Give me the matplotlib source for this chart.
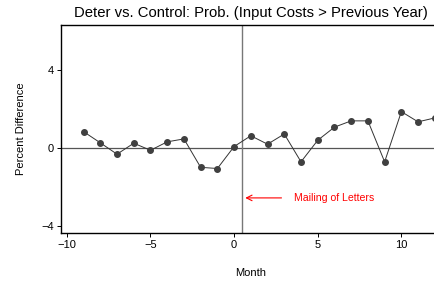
import numpy as np
import matplotlib.pyplot as plt

plt.rcParams['font.family'] = ['Liberation Sans', 'DejaVu Sans']

months = [-9, -8, -7, -6, -5, -4, -3, -2, -1, 0, 1, 2, 3, 4, 5, 6, 7, 8, 9, 10, 11, 12]
pct_diff = [0.83, 0.26, -0.32, 0.24, -0.12, 0.31, 0.46, -0.99, -1.05, 0.07, 0.62,
            0.19, 0.71, -0.71, 0.39, 1.06, 1.38, 1.38, -0.71, 1.85, 1.33, 1.53]

fig = plt.figure(figsize=(4.34, 2.84), dpi=100)
# axes run past the right edge of the figure, as in the original crop
ax = fig.add_axes([61 / 434, (284 - 233) / 284, 380 / 434, 208 / 284])

ax.axhline(0, color='#555555', lw=0.9, zorder=1)
ax.axvline(0.5, color='#777777', lw=1.0, zorder=1)
ax.plot(months, pct_diff, color='#333333', lw=0.7, marker='o', ms=4.0,
        markerfacecolor='#404040', markeredgecolor='#404040', zorder=3)

ax.annotate('', xy=(0.5, -2.55), xytext=(3.0, -2.55),
            arrowprops=dict(arrowstyle='->', color='red', lw=0.8))
ax.text(3.6, -2.55, 'Mailing of Letters', color='red', fontsize=7.6, va='center')

ax.set_xlim(-10.35, 12.37)
ax.set_ylim(-4.34, 6.27)
ax.set_xticks([-10, -5, 0, 5, 10])
ax.set_xticklabels(['\u221210', '\u22125', '0', '5', '10'])
ax.set_yticks([-4, 0, 4])
ax.set_yticklabels(['\u22124', '0', '4'])
ax.tick_params(labelsize=8, length=3, width=0.7, pad=2)

ax.spines['right'].set_visible(False)
for s in ['left', 'top', 'bottom']:
    ax.spines[s].set_linewidth(1.0)

ax.set_xlabel('Month', fontsize=8, labelpad=13)
ax.set_ylabel('Percent Difference', fontsize=8, labelpad=11)
ax.set_title('Deter vs. Control: Prob. (Input Costs > Previous Year)', fontsize=10.7, pad=6)

plt.savefig('out.png', dpi=100)
